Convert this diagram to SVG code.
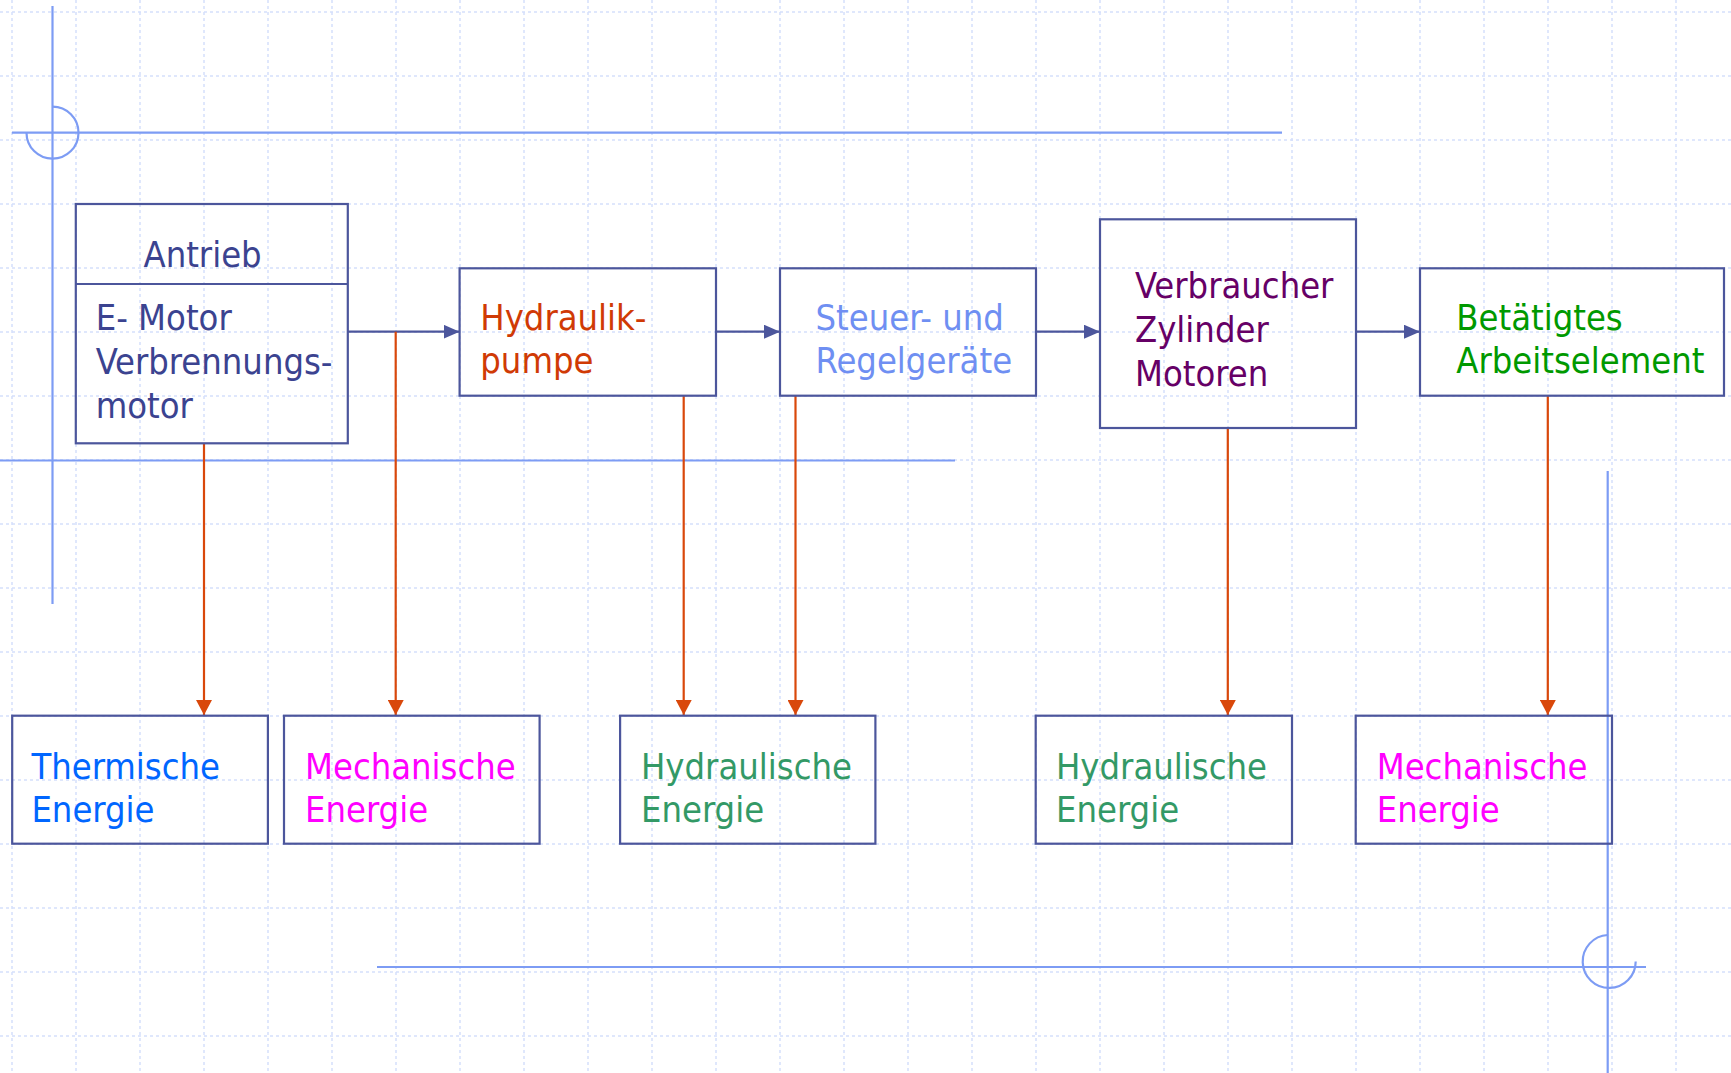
<svg xmlns="http://www.w3.org/2000/svg" width="1731" height="1073" viewBox="0 0 1731 1073">
<style>
.grid{stroke:#d5dffc;stroke-width:1.5;stroke-dasharray:3 3;fill:none}
.deco{stroke:#7d9cf4;stroke-width:2.2;fill:none}
.box{fill:none;stroke:#4c569c;stroke-width:2.2}
.flow{stroke:#4c569c;stroke-width:2.2;fill:none}
.loss{stroke:#d9480b;stroke-width:2.2;fill:none}
text{font-family:"DejaVu Sans Condensed","DejaVu Sans","Liberation Sans",sans-serif;font-stretch:condensed;font-size:36px}
.t-drive{fill:#3b4390}
.t-pump{fill:#d03a05}
.t-ctrl{fill:#6f8ff2}
.t-cons{fill:#660066}
.t-work{fill:#009900}
.t-therm{fill:#0066ff}
.t-mech{fill:#ff00ff}
.t-hyd{fill:#339966}
</style>
<defs>
<marker id="ah-blue" viewBox="0 0 16 14" refX="16" refY="7" markerWidth="16" markerHeight="14" markerUnits="userSpaceOnUse" orient="auto">
<path d="M0,0 L16,7 L0,14 z" fill="#4c569c"/>
</marker>
<marker id="ah-orange" viewBox="0 0 15 16" refX="15" refY="8" markerWidth="15" markerHeight="16" markerUnits="userSpaceOnUse" orient="auto">
<path d="M0,0 L15,8 L0,16 z" fill="#d9480b"/>
</marker>
</defs>
<rect width="1731" height="1073" fill="#ffffff"/>
<g id="grid" class="grid">
<path d="M12,0V1073M76,0V1073M140,0V1073M204,0V1073M268,0V1073M332,0V1073M396,0V1073M460,0V1073M524,0V1073M588,0V1073M652,0V1073M716,0V1073M780,0V1073M844,0V1073M908,0V1073M972,0V1073M1036,0V1073M1100,0V1073M1164,0V1073M1228,0V1073M1292,0V1073M1356,0V1073M1420,0V1073M1484,0V1073M1548,0V1073M1612,0V1073M1676,0V1073"/>
<path d="M0,12H1731M0,76H1731M0,140H1731M0,204H1731M0,268H1731M0,332H1731M0,396H1731M0,460H1731M0,524H1731M0,588H1731M0,652H1731M0,716H1731M0,780H1731M0,844H1731M0,908H1731M0,972H1731M0,1036H1731"/>
</g>
<g id="decoration" class="deco">
<path d="M52.5,6V604"/>
<path d="M12,132.7H1282"/>
<path d="M52.5,106.7A26,26 0 1,1 26.5,132.7"/>
<path d="M0,460.5H955"/>
<path d="M1607.7,471V1073"/>
<path d="M377,967H1646"/>
<path d="M1607.7,935A26.5,26.5 0 1,0 1635.7,961.5"/>
</g>
<g id="connectors">
<path class="flow" d="M348,331.7H459.6" marker-end="url(#ah-blue)"/>
<path class="flow" d="M716,331.7H780" marker-end="url(#ah-blue)"/>
<path class="flow" d="M1036,331.7H1100" marker-end="url(#ah-blue)"/>
<path class="flow" d="M1356,331.7H1420" marker-end="url(#ah-blue)"/>
<path class="loss" d="M204,443.3V715" marker-end="url(#ah-orange)"/>
<path class="loss" d="M395.7,331.7V715" marker-end="url(#ah-orange)"/>
<path class="loss" d="M683.7,395.7V715" marker-end="url(#ah-orange)"/>
<path class="loss" d="M795.5,395.7V715" marker-end="url(#ah-orange)"/>
<path class="loss" d="M1227.8,428V715" marker-end="url(#ah-orange)"/>
<path class="loss" d="M1547.8,395.7V715" marker-end="url(#ah-orange)"/>
</g>
<g id="antrieb">
<rect class="box" x="75.8" y="204" width="272" height="239.3"/>
<path class="box" d="M75.8,284H347.8"/>
<text class="t-drive" x="143.5" y="267">Antrieb</text>
<text class="t-drive" x="95.7" y="330">E- Motor</text>
<text class="t-drive" x="95.7" y="373.5">Verbrennungs-</text>
<text class="t-drive" x="95.7" y="418">motor</text>
</g>
<g id="hydraulikpumpe">
<rect class="box" x="459.6" y="268.3" width="256.4" height="127.4"/>
<text class="t-pump" x="480.3" y="330">Hydraulik-</text>
<text class="t-pump" x="480.3" y="373">pumpe</text>
</g>
<g id="steuergeraete">
<rect class="box" x="780" y="268.3" width="256" height="127.4"/>
<text class="t-ctrl" x="815.5" y="330">Steuer- und</text>
<text class="t-ctrl" x="815.5" y="373.3">Regelgeräte</text>
</g>
<g id="verbraucher">
<rect class="box" x="1100" y="219.3" width="256" height="208.7"/>
<text class="t-cons" x="1135" y="298">Verbraucher</text>
<text class="t-cons" x="1135" y="342">Zylinder</text>
<text class="t-cons" x="1135" y="386">Motoren</text>
</g>
<g id="arbeitselement">
<rect class="box" x="1420" y="268.3" width="304" height="127.4"/>
<text class="t-work" x="1456.3" y="330">Betätigtes</text>
<text class="t-work" x="1456.3" y="373.3">Arbeitselement</text>
</g>
<g id="thermische-energie">
<rect class="box" x="12.2" y="715.7" width="255.7" height="128"/>
<text class="t-therm" x="31.4" y="779">Thermische</text>
<text class="t-therm" x="31.4" y="821.7">Energie</text>
</g>
<g id="mechanische-energie-1">
<rect class="box" x="284" y="715.7" width="255.6" height="128"/>
<text class="t-mech" x="305" y="779">Mechanische</text>
<text class="t-mech" x="305" y="821.7">Energie</text>
</g>
<g id="hydraulische-energie-1">
<rect class="box" x="620.1" y="715.7" width="255.3" height="128"/>
<text class="t-hyd" x="641" y="779">Hydraulische</text>
<text class="t-hyd" x="641" y="821.7">Energie</text>
</g>
<g id="hydraulische-energie-2">
<rect class="box" x="1035.7" y="715.7" width="256.3" height="128"/>
<text class="t-hyd" x="1056" y="779">Hydraulische</text>
<text class="t-hyd" x="1056" y="821.7">Energie</text>
</g>
<g id="mechanische-energie-2">
<rect class="box" x="1355.7" y="715.7" width="256.3" height="128"/>
<text class="t-mech" x="1376.7" y="779">Mechanische</text>
<text class="t-mech" x="1376.7" y="821.7">Energie</text>
</g>
</svg>
